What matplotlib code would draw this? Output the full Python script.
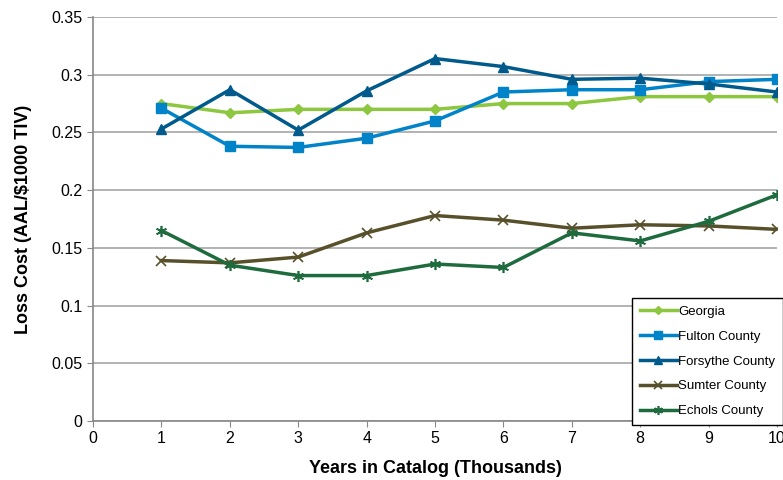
import matplotlib
matplotlib.use("Agg")
import matplotlib.pyplot as plt

years = [1, 2, 3, 4, 5, 6, 7, 8, 9, 10]
georgia = [0.275, 0.267, 0.270, 0.270, 0.270, 0.275, 0.275, 0.281, 0.281, 0.281]
fulton = [0.271, 0.238, 0.237, 0.245, 0.260, 0.285, 0.287, 0.287, 0.294, 0.296]
forsythe = [0.253, 0.287, 0.252, 0.286, 0.314, 0.307, 0.296, 0.297, 0.292, 0.285]
sumter = [0.139, 0.137, 0.142, 0.163, 0.178, 0.174, 0.167, 0.170, 0.169, 0.166]
echols = [0.165, 0.135, 0.126, 0.126, 0.136, 0.133, 0.163, 0.156, 0.173, 0.196]

plt.rcParams['font.family'] = ['Liberation Sans', 'DejaVu Sans']

fig = plt.figure(figsize=(7.83, 4.8), dpi=100)
ax = fig.add_axes([0.1188, 0.1229, 0.8736, 0.8417])

ax.plot(years, georgia, color='#8DC63F', marker='D', markersize=5, lw=2.5, label='Georgia')
ax.plot(years, fulton, color='#0083C9', marker='s', markersize=7, lw=2.5, label='Fulton County')
ax.plot(years, forsythe, color='#005A8B', marker='^', markersize=7, lw=2.5, label='Forsythe County')
ax.plot(years, sumter, color='#58502A', marker='x', markersize=7, mew=1.2, lw=2.5, label='Sumter County')
ax.plot(years, echols, color='#1E6B3E', marker=(6, 2, 0), markersize=8, mew=1.2, lw=2.5, label='Echols County')

ax.set_xlim(0, 10)
ax.set_ylim(0, 0.35)
ax.set_xticks(range(0, 11))
ax.set_yticks([0, 0.05, 0.1, 0.15, 0.2, 0.25, 0.3, 0.35])
ax.set_yticklabels(['0', '0.05', '0.1', '0.15', '0.2', '0.25', '0.3', '0.35'])
ax.tick_params(labelsize=11.5, length=4, color='#888888')
ax.yaxis.grid(True, color='#A6A6A6', lw=1.2)
ax.set_axisbelow(True)
for s in ['top', 'right']:
    ax.spines[s].set_visible(False)
for s in ['left', 'bottom']:
    ax.spines[s].set_color('#888888')
    ax.spines[s].set_linewidth(1.2)

ax.set_xlabel('Years in Catalog (Thousands)', fontsize=13, fontweight='bold', labelpad=10)
ax.set_ylabel('Loss Cost (AAL/\\$1000 TIV)', fontsize=13, fontweight='bold', labelpad=14)

leg = ax.legend(loc='lower right', bbox_to_anchor=(1.009, -0.01), borderaxespad=0, fontsize=9.5,
                fancybox=False, framealpha=1, edgecolor='black', handlelength=2.8,
                handletextpad=0.1, labelspacing=0.95, borderpad=0.6, markerscale=0.8)
leg.get_frame().set_linewidth(1.0)
leg.set_clip_on(False)

fig.savefig('out.png', dpi=100)
